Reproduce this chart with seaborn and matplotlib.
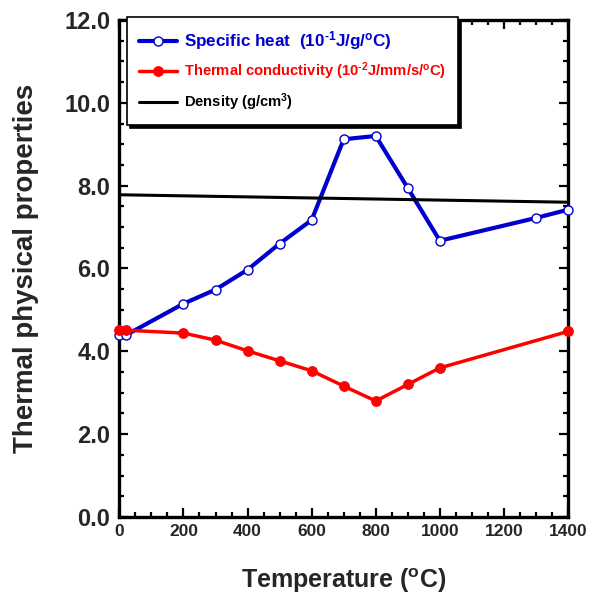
import matplotlib
matplotlib.use("Agg")
import matplotlib.pyplot as plt
from matplotlib.ticker import MultipleLocator, FormatStrFormatter
import seaborn as sns
import pandas as pd

# ---- data ----
temp_sh = [0, 20, 200, 300, 400, 500, 600, 700, 800, 900, 1000, 1300, 1400]
specific_heat = [4.39, 4.39, 5.15, 5.49, 5.97, 6.60, 7.17, 9.12, 9.20, 7.94, 6.67, 7.22, 7.42]

temp_tc = [0, 20, 200, 300, 400, 500, 600, 700, 800, 900, 1000, 1400]
thermal_cond = [4.51, 4.51, 4.44, 4.27, 4.01, 3.77, 3.53, 3.16, 2.80, 3.20, 3.60, 4.48]

temp_den = [0, 1400]
density = [7.78, 7.60]

x_ticks = [0, 200, 400, 600, 800, 1000, 1200, 1400]
y_ticks = [0.0, 2.0, 4.0, 6.0, 8.0, 10.0, 12.0]

lab_sh = r"Specific heat  (10$^{\text{-1}}$J/g/$^{\text{o}}$C)"
lab_tc = r"Thermal conductivity (10$^{\text{-2}}$J/mm/s/$^{\text{o}}$C)"
lab_den = r"Density (g/cm$^{\text{3}}$)"

sns.set_style("white")
plt.rcParams["font.family"] = ["Liberation Sans", "DejaVu Sans"]
plt.rcParams["font.weight"] = "bold"
plt.rcParams["mathtext.fontset"] = "custom"
plt.rcParams["mathtext.rm"] = "Liberation Sans:bold"
plt.rcParams["mathtext.it"] = "Liberation Sans:bold"
plt.rcParams["mathtext.bf"] = "Liberation Sans:bold"
plt.rcParams["mathtext.default"] = "rm"

fig = plt.figure(figsize=(5.96, 6.06), dpi=100)
ax = fig.add_axes([0.2003, 0.1469, 0.7528, 0.8201])

df_sh = pd.DataFrame({"T": temp_sh, "v": specific_heat})
df_tc = pd.DataFrame({"T": temp_tc, "v": thermal_cond})
df_den = pd.DataFrame({"T": temp_den, "v": density})

blue = "#0000CC"
red = "#FF0000"

sns.lineplot(data=df_sh, x="T", y="v", ax=ax, color=blue, lw=3.0, marker="o",
             markersize=6.5, markerfacecolor="white", markeredgecolor=blue,
             markeredgewidth=1.0, label=lab_sh, clip_on=False, zorder=3)
sns.lineplot(data=df_tc, x="T", y="v", ax=ax, color=red, lw=2.5, marker="o",
             markersize=7, markerfacecolor=red, markeredgecolor=red,
             label=lab_tc, clip_on=False, zorder=4)
sns.lineplot(data=df_den, x="T", y="v", ax=ax, color="black", lw=2.2,
             label=lab_den, zorder=5)

ax.set_xlim(0, 1400)
ax.set_ylim(0, 12)
ax.set_xticks(x_ticks)
ax.set_yticks(y_ticks)
ax.xaxis.set_minor_locator(MultipleLocator(50))
ax.yaxis.set_minor_locator(MultipleLocator(0.5))
ax.yaxis.set_major_formatter(FormatStrFormatter("%.1f"))

for s in ax.spines.values():
    s.set_linewidth(2.4)
    s.set_color("black")

ax.tick_params(which="both", direction="in", top=True, right=True,
               bottom=True, left=True, color="black")
ax.tick_params(which="major", length=6.5, width=1.6)
ax.tick_params(which="minor", length=3.8, width=1.6)
ax.tick_params(axis="y", which="major", labelsize=17, pad=6.5)
ax.tick_params(axis="x", which="major", labelsize=12.5, pad=5)
for t in ax.get_xticklabels() + ax.get_yticklabels():
    t.set_fontweight("bold")

ax.set_xlabel("Temperature ($^{\\text{o}}$C)", fontsize=18, fontweight="bold", labelpad=20)
ax.set_ylabel("Thermal physical properties", fontsize=20, fontweight="bold", labelpad=18)

leg = ax.legend(loc="upper left", bbox_to_anchor=(0.017, 1.006), borderaxespad=0,
                frameon=True, fancybox=False, fontsize=10.6, handlelength=2.6,
                handletextpad=0.45, labelspacing=0.62, borderpad=0.8,
                shadow={"color": "black", "alpha": 1.0, "ox": 2.5, "oy": -2.5})
leg.get_frame().set_edgecolor("black")
leg.get_frame().set_linewidth(1.2)
leg.get_frame().set_alpha(1.0)
leg.set_zorder(10)
for txt, c in zip(leg.get_texts(), [blue, red, "black"]):
    txt.set_color(c)
    txt.set_fontweight("bold")
leg.get_texts()[0].set_fontsize(12.3)

fig.savefig("out.png", dpi=100)
